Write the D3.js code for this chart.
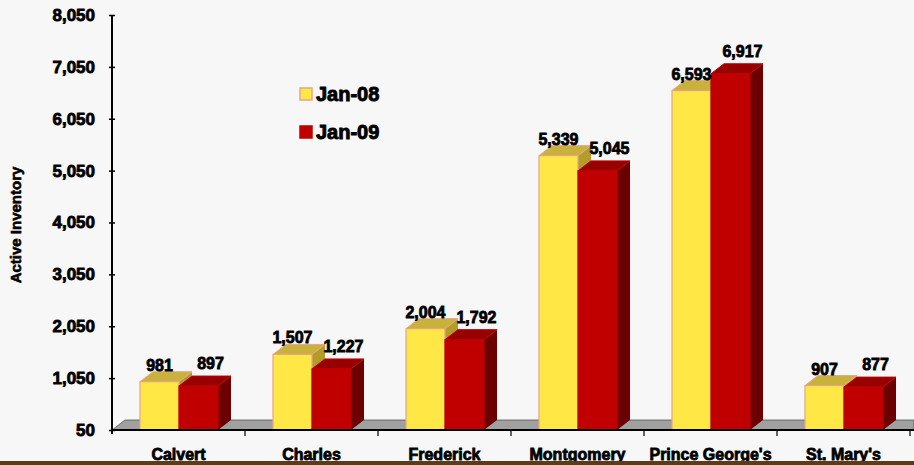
<!DOCTYPE html>
<html>
<head>
<meta charset="utf-8">
<script src="https://cdn.jsdelivr.net/npm/d3@7"></script>
<style>
  body { margin: 0; background: #f7f7f7; }
  text { font-family: "Liberation Sans", Arial, sans-serif; font-weight: bold; fill: #000; }
</style>
</head>
<body>
<script>
var condados = ["Calvert", "Charles", "Frederick", "Montgomery", "Prince George's", "St. Mary's"];
var series = ["Jan-08", "Jan-09"];
var jan08 = [981, 1507, 2004, 5339, 6593, 907];
var jan09 = [897, 1227, 1792, 5045, 6917, 877];
var ticksY = [50, 1050, 2050, 3050, 4050, 5050, 6050, 7050, 8050];

var colores = {
    "Jan-08": { frente: "#ffe845", arriba: "#c9b23c", lado: "#b39c2a", borde: "#e8a48a" },
    "Jan-09": { frente: "#c00000", arriba: "#980000", lado: "#6c0000", borde: "#c00000" }
};
var prof = { dx: 13, dy: -10 };

function dibujar() {
    var svg = d3.select('body').append('svg').attr('width', 914).attr('height', 465);
    svg.append('rect').attr('width', 914).attr('height', 465).attr('fill', '#f7f7f7');

    var x = d3.scaleBand().domain(condados).range([112, 910]).padding(0);
    var xs = d3.scaleBand().domain(series).range([28, 106]).padding(0);
    var y = d3.scaleLinear().domain([50, 8050]).range([430, 15]);

    // suelo gris
    var base = y(50);
    svg.append('path')
        .attr('d', `M112,${base} L${112 + prof.dx},${base + prof.dy} L${914},${base + prof.dy} L914,${base} Z`)
        .attr('fill', '#a0a0a0').attr('stroke', '#555').attr('stroke-width', 0.8);

    var datos = [];
    condados.forEach(function (c, i) {
        datos.push({ condado: c, serie: "Jan-08", valor: jan08[i] });
        datos.push({ condado: c, serie: "Jan-09", valor: jan09[i] });
    });

    var g = svg.append('g');
    datos.forEach(function (d) {
        var x0 = x(d.condado) + xs(d.serie), w = xs.bandwidth(), y0 = y(d.valor), col = colores[d.serie];
        // lado
        g.append('path')
            .attr('d', `M${x0 + w},${y0} L${x0 + w + prof.dx},${y0 + prof.dy} L${x0 + w + prof.dx},${base + prof.dy} L${x0 + w},${base} Z`)
            .attr('fill', col.lado);
        // arriba
        g.append('path')
            .attr('d', `M${x0},${y0} L${x0 + prof.dx},${y0 + prof.dy} L${x0 + w + prof.dx},${y0 + prof.dy} L${x0 + w},${y0} Z`)
            .attr('fill', col.arriba).attr('stroke', col.borde).attr('stroke-width', 1);
        // frente
        g.append('rect').attr('x', x0).attr('y', y0).attr('width', w).attr('height', base - y0)
            .attr('fill', col.frente).attr('stroke', col.borde).attr('stroke-width', 1.2);
    });

    // etiquetas de valores
    svg.selectAll('text.valor').data(datos).enter().append('text')
        .attr('class', 'valor')
        .attr('x', function (d) { return x(d.condado) + xs(d.serie) + xs.bandwidth() / 2 + (d.serie == "Jan-09" ? 12 : 0); })
        .attr('y', function (d) { return y(d.valor) - (d.serie == "Jan-09" ? 17 : 11); })
        .attr('text-anchor', 'middle').attr('font-size', 16)
        .style('stroke', '#000').style('stroke-width', 0.8)
        .text(function (d) { return d3.format(",")(d.valor); });

    // eje x
    svg.append('line').attr('x1', 112).attr('x2', 914).attr('y1', base).attr('y2', base)
        .attr('stroke', '#000').attr('stroke-width', 2);
    x.domain().forEach(function (c) {
        svg.append('line').attr('x1', x(c) + x.bandwidth()).attr('x2', x(c) + x.bandwidth())
            .attr('y1', base).attr('y2', base + 6).attr('stroke', '#000').attr('stroke-width', 1.2);
    });
    svg.selectAll('text.cat').data(condados).enter().append('text')
        .attr('class', 'cat')
        .attr('x', function (d) { return x(d) + x.bandwidth() / 2; })
        .attr('y', 460).attr('text-anchor', 'middle').attr('font-size', 16)
        .style('stroke', '#000').style('stroke-width', 0.8)
        .text(function (d) { return d; });

    // eje y
    var ejeY = svg.append('g').attr('transform', 'translate(112,0)')
        .call(d3.axisLeft(y).tickValues(ticksY).tickFormat(d3.format(",")).tickSize(3).tickPadding(14));
    ejeY.select('.domain').attr('d', `M0,${y(8050)} V${base + 4}`).attr('stroke-width', 2);
    ejeY.selectAll('.tick line').attr('x1', -3).attr('x2', 3).attr('stroke-width', 1.5);
    ejeY.selectAll('.tick text').attr('font-size', 17).attr('font-family', null)
        .style('stroke', '#000').style('stroke-width', 0.8);

    svg.append('text').attr('transform', 'translate(21,225) rotate(-90)')
        .attr('text-anchor', 'middle').attr('font-size', 15)
        .style('stroke', '#000').style('stroke-width', 0.6)
        .text("Active Inventory");

    // leyenda
    var ley = svg.append('g');
    series.forEach(function (s, i) {
        ley.append('rect').attr('x', 300).attr('y', 88 + i * 38).attr('width', 12).attr('height', 12)
            .attr('fill', colores[s].frente).attr('stroke', colores[s].borde).attr('stroke-width', 1.5);
        ley.append('text').attr('x', 316).attr('y', 101 + i * 38).attr('font-size', 20)
            .style('stroke', '#000').style('stroke-width', 0.9)
            .text(s);
    });

    // franja inferior
    svg.append('rect').attr('x', 0).attr('y', 461).attr('width', 914).attr('height', 4).attr('fill', '#5c3a1a');
}
window.onload = () => {
    dibujar();
}
</script>
</body>
</html>
